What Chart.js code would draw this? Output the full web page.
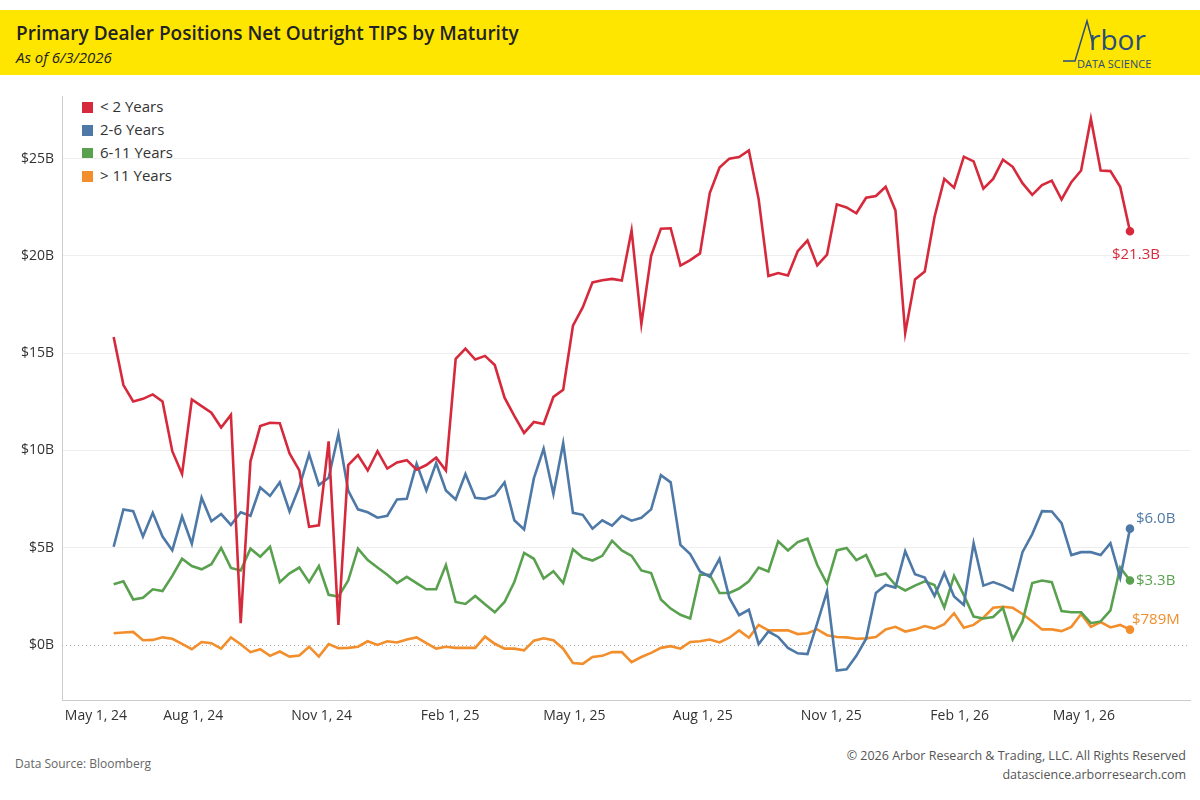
<!DOCTYPE html>
<html>
<head>
<meta charset="utf-8">
<script src="https://cdn.jsdelivr.net/npm/chart.js@4.4.1/dist/chart.umd.min.js"></script>
<style>
  body { margin: 0; width: 1200px; height: 800px; background: #fff; font-family: "Open Sans", sans-serif; position: relative; overflow: hidden; }
  .header { position: absolute; left: 0; top: 10px; width: 1200px; height: 65px; background: #ffe600; }
  .title { position: absolute; left: 16px; top: 10px; font-size: 19px; font-weight: 600; color: #222; }
  .subtitle { position: absolute; left: 16px; top: 37px; font-size: 15px; font-style: italic; color: #222; }
  .logo { position: absolute; right: 12px; top: 6px; width: 125px; height: 56px; }
  .legend { position: absolute; left: 82px; top: 95px; font-size: 15px; color: #333; line-height: 23px; }
  .legend span { display: inline-block; width: 11px; height: 11px; margin-right: 7px; vertical-align: -1px; }
  #wrap { position: absolute; left: 0; top: 80px; width: 1200px; height: 660px; }
  .foot-l { position: absolute; left: 15px; top: 755px; font-size: 12px; color: #666; }
  .foot-r { position: absolute; right: 14px; top: 746px; font-size: 12.5px; color: #555; text-align: right; line-height: 19px; }
</style>
</head>
<body>
<div class="header">
  <div class="title">Primary Dealer Positions Net Outright TIPS by Maturity</div>
  <div class="subtitle">As of 6/3/2026</div>
  <svg class="logo" viewBox="0 0 125 56">
    <polyline points="0,45 12,45 24,5 30,28" fill="none" stroke="#2b4c7e" stroke-width="1.5"/>
    <text x="26" y="34" font-family="Open Sans" font-size="28" fill="#2b4c7e">rbor</text>
    <text x="14" y="52" font-family="Open Sans" font-size="11" fill="#2b4c7e">DATA SCIENCE</text>
  </svg>
</div>
<div class="legend">
  <div><span style="background:#d62a3c"></span>&lt; 2 Years</div>
  <div><span style="background:#4e79a7"></span>2-6 Years</div>
  <div><span style="background:#59a14f"></span>6-11 Years</div>
  <div><span style="background:#f28e2b"></span>&gt; 11 Years</div>
</div>
<div id="wrap"><canvas id="c"></canvas></div>
<div class="foot-l">Data Source: Bloomberg</div>
<div class="foot-r">© 2026 Arbor Research &amp; Trading, LLC. All Rights Reserved<br>datascience.arborresearch.com</div>
<script>
// weekly observations, first on Wed Jun 5 2024, last on Wed Jun 3 2026 ($B)
const startDate = Date.UTC(2024, 5, 5);
const under2 = [15.83,13.36,12.52,12.65,12.88,12.52,9.96,8.79,12.62,12.28,11.94,11.18,11.83,1.12,9.44,11.25,11.42,11.40,9.85,8.97,
  6.07,6.15,10.47,1.03,9.25,9.76,8.97,9.96,9.07,9.38,9.50,9.01,9.25,9.63,8.97,14.71,15.23,14.67,14.86,14.39,
  12.71,11.78,10.90,11.46,11.36,12.75,13.12,16.41,17.35,18.64,18.75,18.82,18.73,21.31,16.50,20.0,21.40,21.42,19.50,19.78,
  20.13,23.23,24.54,25.0,25.08,25.42,22.93,18.97,19.12,18.99,20.24,20.79,19.51,20.06,22.65,22.49,22.19,22.99,23.08,23.55,
  22.34,16.04,18.79,19.2,22.0,23.96,23.51,25.1,24.86,23.46,23.96,24.95,24.58,23.74,23.14,23.64,23.87,22.9,23.79,24.39,
  27.05,24.39,24.36,23.55,21.27];
const y2to6 = [5.05,6.97,6.88,5.57,6.79,5.57,4.86,6.60,5.20,7.57,6.36,6.73,6.17,6.82,6.64,8.09,7.66,8.36,6.86,8.13,
  9.81,8.22,8.60,10.84,7.94,6.97,6.82,6.54,6.64,7.48,7.51,9.31,7.94,9.35,7.94,7.48,8.79,7.57,7.51,7.70,
  8.36,6.41,5.94,8.56,10.09,7.76,10.37,6.79,6.69,5.98,6.41,6.13,6.64,6.39,6.54,6.97,8.73,8.36,5.14,4.67,
  3.78,3.51,4.43,2.43,1.53,1.81,0.04,0.69,0.41,-0.15,-0.43,-0.47,1.12,2.75,-1.31,-1.25,-0.56,0.32,2.67,3.08,
  2.95,4.82,3.64,3.46,2.52,3.70,2.49,2.06,5.23,3.05,3.23,3.05,2.80,4.77,5.70,6.88,6.86,6.26,4.62,4.77,
  4.77,4.62,5.23,3.46,5.98];
const y6to11 = [3.12,3.27,2.34,2.43,2.86,2.77,3.55,4.43,4.06,3.89,4.15,4.99,3.96,3.83,4.95,4.54,5.05,3.23,3.68,3.98,
  3.23,4.06,2.58,2.49,3.31,4.95,4.36,3.98,3.61,3.18,3.50,3.18,2.86,2.86,4.11,2.21,2.11,2.52,2.09,1.68,
  2.21,3.23,4.73,4.43,3.42,3.79,3.18,4.92,4.49,4.34,4.58,5.36,4.86,4.58,3.83,3.70,2.34,1.87,1.55,1.36,
  3.61,3.61,2.67,2.67,2.90,3.27,3.98,3.78,5.33,4.86,5.29,5.46,4.11,3.14,4.86,4.99,4.36,4.62,3.55,3.68,
  3.08,2.80,3.05,3.27,3.08,1.93,3.55,2.56,1.46,1.36,1.44,1.91,0.28,1.21,3.18,3.31,3.23,1.74,1.68,1.68,
  1.12,1.21,1.78,3.98,3.31];
const over11 = [0.60,0.64,0.67,0.24,0.26,0.39,0.32,0.06,-0.22,0.15,0.09,-0.19,0.39,0.04,-0.37,-0.22,-0.56,-0.34,-0.60,-0.54,
  -0.09,-0.60,0.04,-0.17,-0.15,-0.09,0.19,0.0,0.19,0.13,0.28,0.39,0.09,-0.19,-0.09,-0.15,-0.15,-0.15,0.43,0.06,
  -0.19,-0.19,-0.28,0.22,0.34,0.24,-0.19,-0.93,-0.97,-0.62,-0.56,-0.37,-0.37,-0.88,-0.62,-0.41,-0.15,-0.06,-0.19,0.15,
  0.19,0.28,0.13,0.37,0.75,0.37,1.03,0.75,0.75,0.75,0.56,0.60,0.80,0.50,0.41,0.39,0.32,0.34,0.41,0.80,
  0.93,0.69,0.80,0.97,0.84,1.07,1.63,0.88,1.03,1.40,1.91,1.96,1.91,1.59,1.21,0.80,0.80,0.71,0.93,1.59,
  0.93,1.18,0.90,1.03,0.789];
const endLabels = ['$21.3B', '$6.0B', '$3.3B', '$789M'];
const tickDates = [[2024,4],[2024,7],[2024,10],[2025,1],[2025,4],[2025,7],[2025,10],[2026,1],[2026,4]];
const monthNames = ['Jan','Feb','Mar','Apr','May','Jun','Jul','Aug','Sep','Oct','Nov','Dec'];

const DAY = 864e5;
const toDay = t => t / DAY;
const pts = arr => arr.map((v, i) => ({ x: toDay(startDate) + 7 * i, y: v }));
const tickDays = tickDates.map(([y, m]) => toDay(Date.UTC(y, m, 1)));
const xMin = toDay(Date.UTC(2024, 3, 29));
const xMax = toDay(Date.UTC(2026, 6, 16));

const series = [
  { label: '< 2 Years', data: under2, color: '#d62a3c' },
  { label: '2-6 Years', data: y2to6, color: '#4e79a7' },
  { label: '6-11 Years', data: y6to11, color: '#59a14f' },
  { label: '> 11 Years', data: over11, color: '#f28e2b' }
];

const endLabelPlugin = {
  id: 'endLabels',
  afterDatasetsDraw(chart) {
    const ctx = chart.ctx;
    ctx.save();
    ctx.font = '15px "Open Sans"';
    ctx.textBaseline = 'middle';
    const offsets = [[-18, 24], [6, -10], [6, 0], [2, -10]];
    chart.data.datasets.forEach((ds, i) => {
      const meta = chart.getDatasetMeta(i);
      const p = meta.data[meta.data.length - 1];
      ctx.fillStyle = ds.borderColor;
      ctx.fillText(endLabels[i], p.x + offsets[i][0], p.y + offsets[i][1]);
    });
    ctx.restore();
  }
};

new Chart(document.getElementById('c'), {
  type: 'line',
  data: {
    datasets: series.map(s => ({
      label: s.label,
      data: pts(s.data),
      borderColor: s.color,
      backgroundColor: s.color,
      borderWidth: 2.6,
      tension: 0,
      pointRadius: ctx => ctx.dataIndex === s.data.length - 1 ? 3 : 0,
      pointHoverRadius: 0
    }))
  },
  options: {
    responsive: true,
    maintainAspectRatio: false,
    animation: false,
    layout: { padding: { top: 5, right: 10, left: 0, bottom: 0 } },
    plugins: { legend: { display: false }, tooltip: { enabled: false } },
    scales: {
      x: {
        type: 'linear',
        min: xMin,
        max: xMax,
        // blank tick at the right edge so only the first label is pushed inward
        afterBuildTicks: axis => { axis.ticks = tickDays.map(v => ({ value: v })).concat([{ value: xMax }]); },
        afterFit: axis => { axis.height = 40; },
        grid: { display: false, drawTicks: true, tickLength: 0 },
        border: { color: '#ccc' },
        ticks: {
          align: 'inner',
          color: '#333',
          font: { size: 14, family: 'Open Sans' },
          padding: 8,
          callback: v => {
            if (v === xMax) return '';
            const d = new Date(v * DAY);
            return monthNames[d.getUTCMonth()] + ' ' + d.getUTCDate() + ', ' + String(d.getUTCFullYear()).slice(2);
          }
        }
      },
      y: {
        min: -2.83,
        max: 28.2,
        afterBuildTicks: axis => { axis.ticks = [0, 5, 10, 15, 20, 25].map(v => ({ value: v })); },
        afterFit: axis => { axis.width = 62; },
        grid: {
          color: ctx => ctx.tick && ctx.tick.value === 0 ? '#bbb' : '#eee',
          lineWidth: 1,
          drawTicks: false
        },
        border: { color: '#ccc', dash: [] },
        ticks: {
          color: '#333',
          font: { size: 14, family: 'Open Sans' },
          padding: 8,
          callback: v => '$' + v + 'B'
        }
      }
    }
  },
  plugins: [endLabelPlugin, {
    id: 'zeroDots',
    beforeDatasetsDraw(chart) {
      // dotted zero line
      const { ctx, chartArea, scales } = chart;
      const y0 = scales.y.getPixelForValue(0);
      ctx.save();
      ctx.fillStyle = '#fff';
      ctx.fillRect(chartArea.left + 1, y0 - 1, chartArea.width, 2);
      ctx.strokeStyle = '#aaa';
      ctx.setLineDash([1, 3]);
      ctx.beginPath();
      ctx.moveTo(chartArea.left, y0 + 0.5);
      ctx.lineTo(chartArea.right, y0 + 0.5);
      ctx.stroke();
      ctx.restore();
    }
  }]
});
</script>
</body>
</html>
